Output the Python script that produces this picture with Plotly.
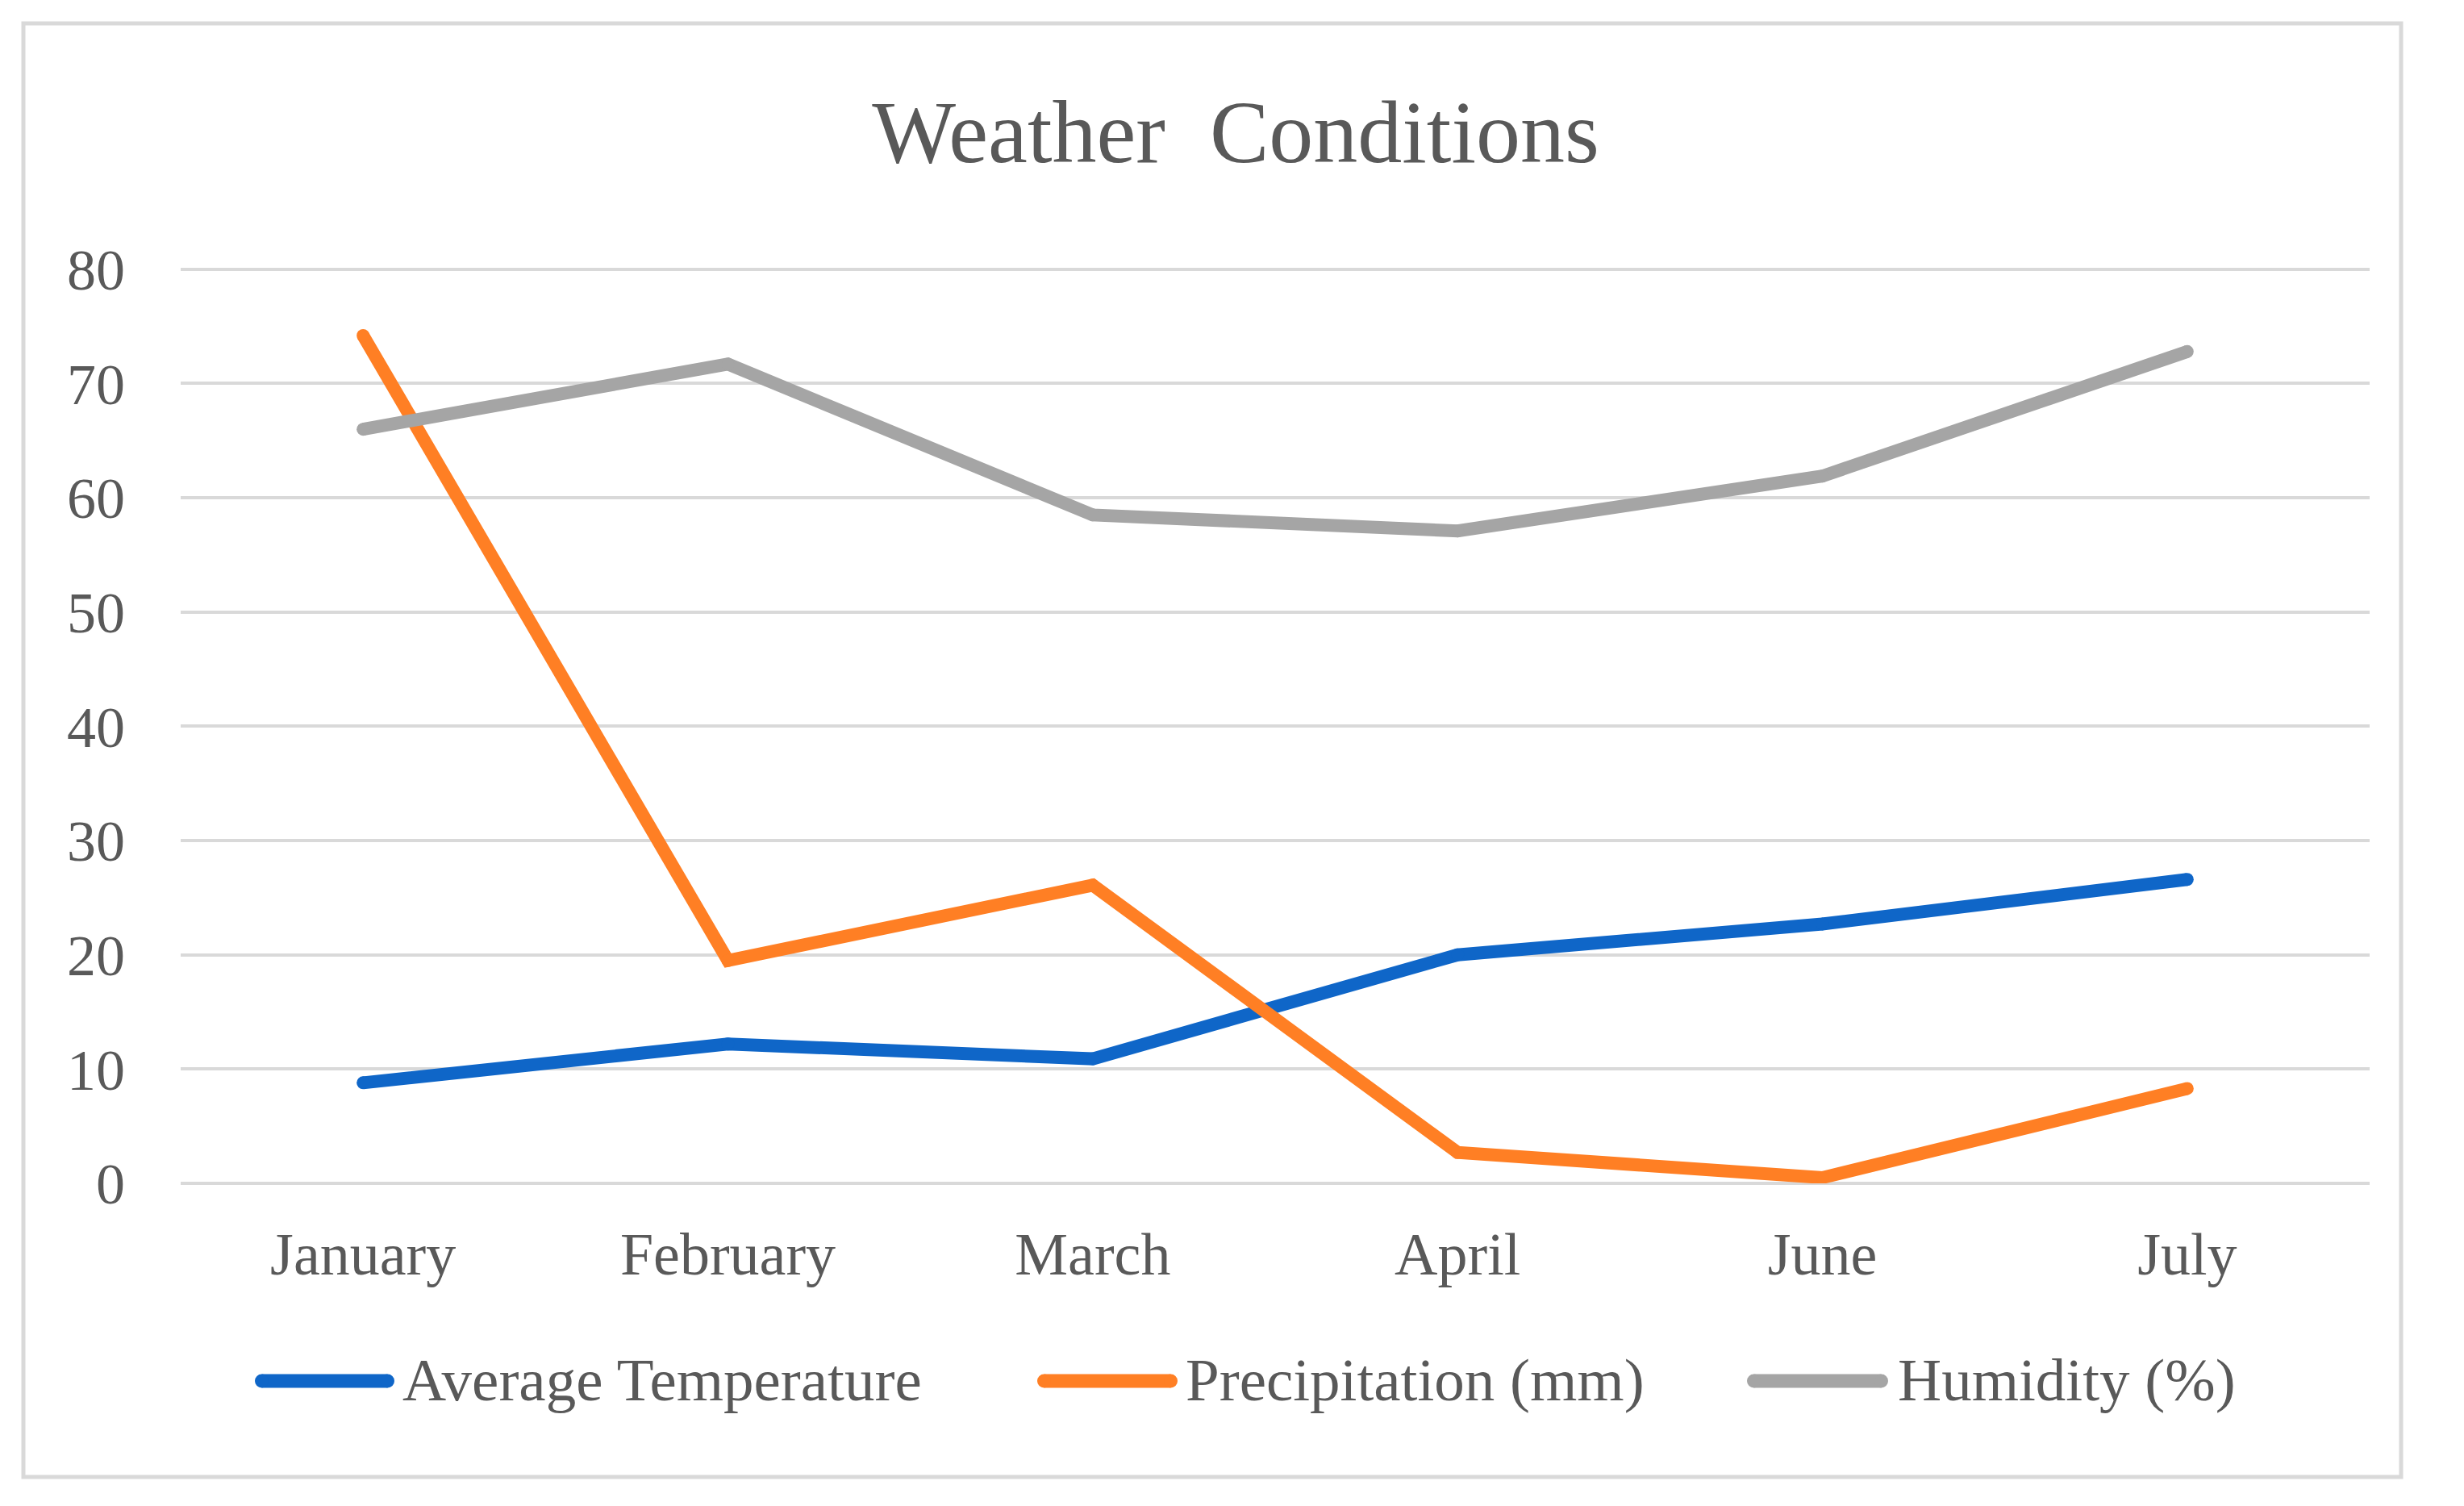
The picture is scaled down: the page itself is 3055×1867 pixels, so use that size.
import plotly.graph_objects as go

months = ["January", "February", "March", "April", "June", "July"]
avg_temp = [8.8, 12.2, 10.9, 20.0, 22.7, 26.6]
precip = [74.2, 19.5, 26.1, 2.7, 0.5, 8.3]
humidity = [66.0, 71.7, 58.5, 57.1, 61.9, 72.8]
series_names = ["Average Temperature", "Precipitation (mm)", "Humidity (%)"]
series_colors = ["#0F66C8", "#FF7F24", "#A5A5A5"]
y_ticks = [0, 10, 20, 30, 40, 50, 60, 70, 80]

OFF = 8  # page body offset
W, H = 3055 - OFF, 1867 - OFF
ML, MR, MT, MB = 224 - OFF, 117, 331 - OFF, 400
PW = W - ML - MR
PH = H - MT - MB
FONT = "Liberation Serif, Times New Roman, serif"
TXT = "#595959"
GRID = "#D9D9D9"
LW = 16


def px_x(px):
    return (px - OFF - ML) / PW


def px_y(py):
    return (H - MB - (py - OFF)) / PH


fig = go.Figure()
for name, vals, col in zip(series_names, [avg_temp, precip, humidity], series_colors):
    fig.add_trace(go.Scatter(
        x=months, y=vals, name=name, mode="lines+markers",
        line=dict(color=col, width=LW),
        marker=dict(color=col, size=LW, line=dict(width=0)),
        showlegend=False, hoverinfo="skip",
    ))

shapes = [
    dict(type="rect", xref="paper", yref="paper",
         x0=px_x(29), x1=px_x(2977), y0=px_y(1831), y1=px_y(29),
         line=dict(color=GRID, width=5), fillcolor="rgba(0,0,0,0)", layer="below"),
]
annotations = []

# custom legend (long line samples as in the reference)
legend_items = [(316, 489, 497), (1286, 1460, 1468), (2166, 2341, 2351)]
legend_y = 1712
R = 8.5
for (lx0, lx1, tx), name, col in zip(legend_items, series_names, series_colors):
    shapes.append(dict(type="line", xref="paper", yref="paper",
                       x0=px_x(lx0 + R), x1=px_x(lx1 - R),
                       y0=px_y(legend_y), y1=px_y(legend_y),
                       line=dict(color=col, width=2 * R)))
    for cx in (lx0 + R, lx1 - R):
        shapes.append(dict(type="circle", xref="paper", yref="paper",
                           x0=px_x(cx - R), x1=px_x(cx + R),
                           y0=px_y(legend_y + R), y1=px_y(legend_y - R),
                           line=dict(width=0), fillcolor=col))
    annotations.append(dict(text=name, xref="paper", yref="paper",
                            x=px_x(tx), y=px_y(legend_y - 2), xanchor="left", yanchor="middle",
                            showarrow=False, font=dict(family=FONT, size=75, color=TXT)))

fig.update_layout(
    width=W, height=H,
    margin=dict(l=ML, r=MR, t=MT, b=MB, pad=0),
    paper_bgcolor="white", plot_bgcolor="white",
    title=dict(text="Weather\u00a0 Conditions", x=px_x(1532), xref="paper", xanchor="center",
               y=1 - (162 - OFF) / H, yref="container", yanchor="middle",
               font=dict(family=FONT, size=110, color=TXT)),
    xaxis=dict(type="category", categoryorder="array", categoryarray=months,
               range=[-0.5, len(months) - 0.5], showgrid=False, zeroline=False,
               showline=False, ticks="", ticklabelstandoff=38,
               tickfont=dict(family=FONT, size=74, color=TXT)),
    yaxis=dict(range=[0, 80.2], tickvals=y_ticks, showgrid=True, gridcolor=GRID, gridwidth=4,
               zeroline=True, zerolinecolor=GRID, zerolinewidth=4, showline=False,
               ticks="", ticklabelstandoff=68,
               tickfont=dict(family=FONT, size=72, color=TXT)),
    shapes=shapes,
    annotations=annotations,
)

fig.write_html("out.html")
